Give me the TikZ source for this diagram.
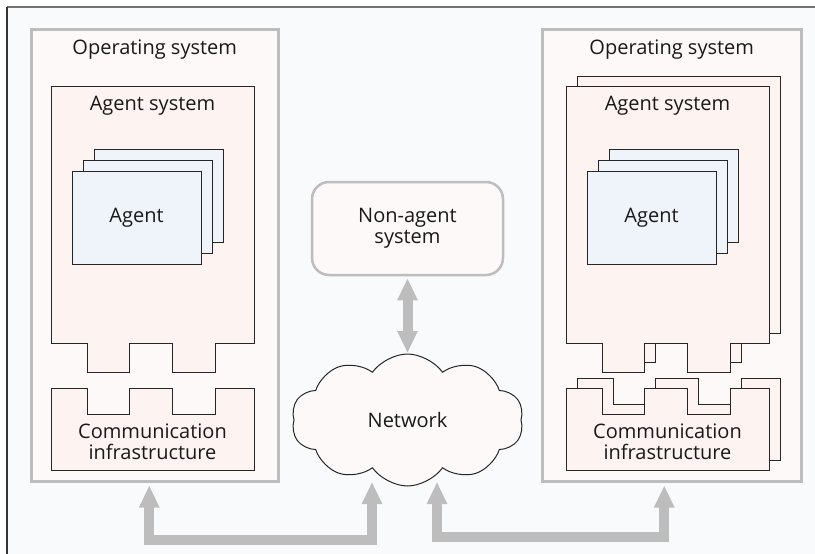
\documentclass[tikz,border=0pt]{standalone}
\usepackage{fontspec}
\setmainfont{Open Sans}
\usepackage{xcolor}
\usepackage{tikz}
\usetikzlibrary{calc, arrows.meta, shapes.symbols, positioning}

\definecolor{framefill}{HTML}{F8FAFC}
\definecolor{osfill}{HTML}{FDF9F8}
\definecolor{sysfill}{HTML}{FDF4F1}
\definecolor{agentfill}{HTML}{EEF4F9}
\definecolor{linkgray}{HTML}{BDBDBD}

\tikzset{
  osbox/.style={draw=linkgray, line width=2.5pt, fill=osfill, inner sep=0pt},
  sysbox/.style={draw=black!85, line width=1pt, fill=sysfill, line join=miter},
  agentbox/.style={draw=black!85, line width=1pt, fill=agentfill},
  roundbox/.style={draw=linkgray, line width=2.5pt, fill=osfill, rounded corners=17pt, inner sep=0pt},
  linkarrow/.style={draw=linkgray, line width=10pt, line join=miter},
  txt/.style={font=\fontsize{20}{21}\selectfont, text=black!90, align=center, inner sep=0pt},
  tip/.tip={Triangle[length=22pt, width=19pt]},
  % notched agent system layer
  agentsys/.pic={
    \draw[sysbox] (0,0) -- (203,0) -- (203,257) -- (164,257) -- (164,286)
      -- (121,286) -- (121,257) -- (78,257) -- (78,286) -- (36,286)
      -- (36,257) -- (0,257) -- cycle;
  },
  % notched communication layer
  commlayer/.pic={
    \draw[sysbox] (0,0) -- (36,0) -- (36,26) -- (78,26) -- (78,0) -- (121,0)
      -- (121,26) -- (164,26) -- (164,0) -- (203,0) -- (203,82) -- (0,82) -- cycle;
  },
  agentcard/.pic={
    \draw[agentbox] (0,0) rectangle (129,93);
  }
}

\begin{document}
\begin{tikzpicture}[x=1pt, y=-1pt]

\useasboundingbox (0,0) rectangle (815,554);

% ------------------------------------------------------------------
% BACKGROUND FRAME
% ------------------------------------------------------------------
\fill[framefill] (7,7) rectangle (815,554);
\draw[black!55, line width=1.4pt] (7,7) -- (815,7);
\draw[black!80, line width=1.4pt] (7,7) -- (7,554);

% ------------------------------------------------------------------
% LEFT HOST
% ------------------------------------------------------------------
\node[osbox, minimum width=247pt, minimum height=452pt, anchor=north west] (los) at (30,28) {};
\node[txt] (losname) at ([yshift=-22pt]los.north) {Operating system};

\pic at (51,86) {agentsys};
\node[txt] (lsysname) at (152.5,106) {Agent system};

\foreach \d in {22,11,0}
  \pic at (72+\d,171-\d) {agentcard};
\node[txt] (lagent) at (136.5,217.5) {Agent};

\pic at (51,388) {commlayer};
\node[txt] (lcomm) at (152.5,442) {Communication\\infrastructure};

% ------------------------------------------------------------------
% RIGHT HOST (several agent systems)
% ------------------------------------------------------------------
\node[osbox, minimum width=259pt, minimum height=452pt, anchor=north west] (ros) at (541,28) {};
\node[txt] (rosname) at ([yshift=-22pt]ros.north) {Operating system};

\pic at (577,76) {agentsys};
\pic at (566,86) {agentsys};
\node[txt] (rsysname) at (667.5,106) {Agent system};

\foreach \d in {22,11,0}
  \pic at (587+\d,171-\d) {agentcard};
\node[txt] (ragent) at (651.5,217.5) {Agent};

\pic at (577,378) {commlayer};
\pic at (566,388) {commlayer};
\node[txt] (rcomm) at (667.5,442) {Communication\\infrastructure};

% ------------------------------------------------------------------
% NETWORK AND NON-AGENT SYSTEM
% ------------------------------------------------------------------
\node[roundbox, txt, minimum width=191pt, minimum height=93pt] (nonagent) at (407.5,228.5) {Non-agent\\system};

\node[cloud, draw=black!85, line width=1pt, fill=osfill, txt, cloud puffs=10, cloud puff arc=110,
      cloud ignores aspect, minimum width=232pt, minimum height=132pt] (net) at (407.5,420) {Network};

% arrow ends under the cloud
\coordinate (netl) at (372,482);
\coordinate (netr) at (437,482);

% ------------------------------------------------------------------
% LINKS
% ------------------------------------------------------------------
\draw[linkarrow, tip-tip] ([yshift=-2pt]nonagent.south) -- (407.5,353);

\draw[linkarrow, tip-tip] ([xshift=-5.5pt, yshift=-3pt]los.south) -- ++(0,54) -| (netl);

\draw[linkarrow, tip-tip] (netr) -- ++(0,55) -| ([xshift=-7.5pt, yshift=-3pt]ros.south);

\end{tikzpicture}
\end{document}
